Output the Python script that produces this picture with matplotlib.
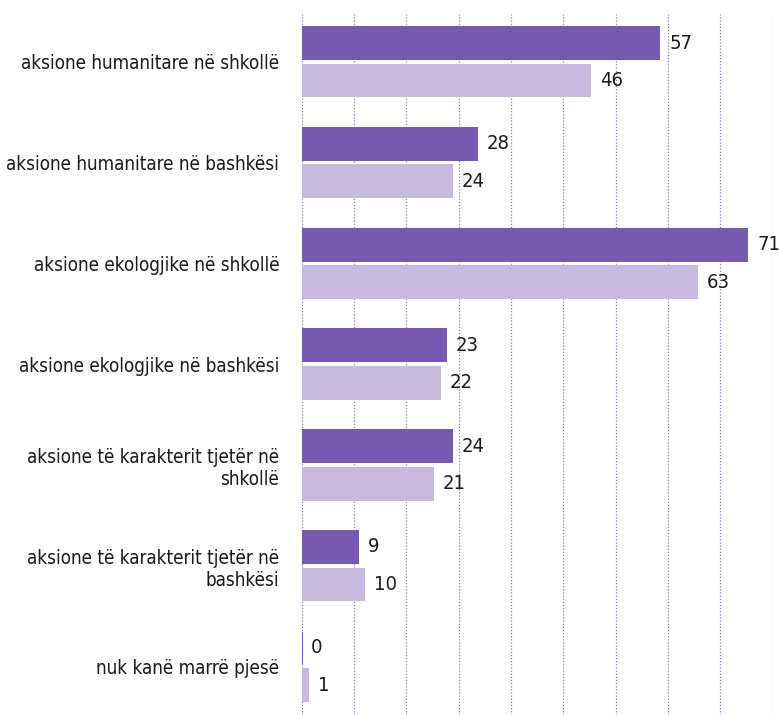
import numpy as np
import matplotlib
matplotlib.use("Agg")
import matplotlib.pyplot as plt
from matplotlib import font_manager

# Te dhenat
kategorite = [
    "aksione humanitare në shkollë",
    "aksione humanitare në bashkësi",
    "aksione ekologjike në shkollë",
    "aksione ekologjike në bashkësi",
    "aksione të karakterit tjetër në\nshkollë",
    "aksione të karakterit tjetër në\nbashkësi",
    "nuk kanë marrë pjesë",
]
seria_1 = [57, 28, 71, 23, 24, 9, 0]
seria_2 = [46, 24, 63, 22, 21, 10, 1]
grid_ticks = np.linspace(0, 75, 10)

# Font i ngushte
plt.rcParams["font.family"] = ["DejaVu Sans"]
plt.rcParams["font.stretch"] = "condensed"
fs = 13.5

fig = plt.figure(figsize=(7.79, 7.15), dpi=100)
ax = fig.add_axes([301.5 / 779, 0, 471 / 779, 1 - 14 / 715])

y = np.arange(len(kategorite))
h = 0.317
off = 0.186
lw = 1.44
ax.barh(y - off, seria_1, height=h, color="#765AB0", edgecolor="#765AB0",
        linewidth=lw, zorder=3)
ax.barh(y + off, seria_2, height=h, color="#C6BBDF", edgecolor="#C6BBDF",
        linewidth=lw, zorder=3)

for yi, v in zip(y, seria_1):
    ax.annotate(str(v), (v, yi - off), xytext=(7, 0), textcoords="offset points",
                va="center", ha="left", fontsize=fs + 1, color="#1a1a1a")
for yi, v in zip(y, seria_2):
    ax.annotate(str(v), (v, yi + off), xytext=(7, 0), textcoords="offset points",
                va="center", ha="left", fontsize=fs + 1, color="#1a1a1a")

for g in grid_ticks:
    ax.axvline(g, color="#8a7cc8", linestyle=(0, (1, 1.5)), lw=0.9, zorder=1)

ax.set_xlim(0, 75)
ax.set_ylim(6.481, -0.474)
ax.set_xticks([])
ax.set_yticks(y)
ax.set_yticklabels(kategorite, fontsize=fs, color="#1a1a1a", linespacing=1.2)
ax.tick_params(axis="y", length=0, pad=16)
for s in ax.spines.values():
    s.set_visible(False)

fig.savefig("out.png", dpi=100)
